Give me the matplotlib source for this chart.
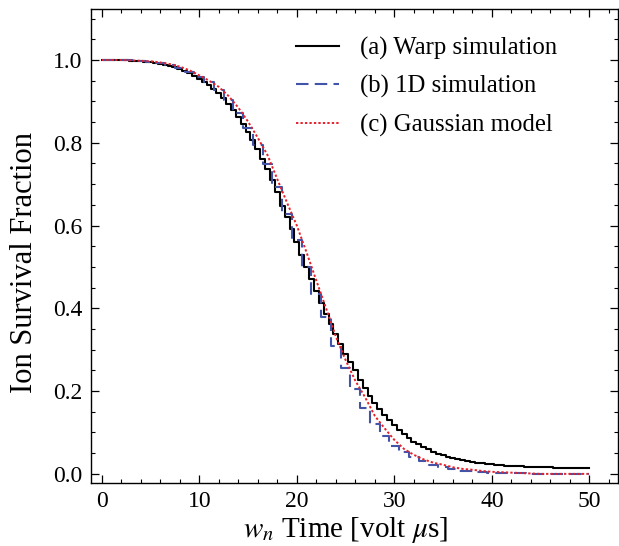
#!/usr/bin/env python3
"""Ion survival fraction vs w_n time: Warp, 1D and Gaussian model."""

import matplotlib
matplotlib.use("Agg")
import matplotlib.pyplot as plt
import numpy as np
from matplotlib.ticker import MultipleLocator, FormatStrFormatter

plt.rcParams["font.family"] = ["Liberation Serif", "DejaVu Serif"]
plt.rcParams["mathtext.fontset"] = "stix"

# sample grids [volt us]
warp_time = np.arange(0, 50.5, 0.5)
time = np.arange(0, 51, 1.0)

warp = [1.000, 1.000, 1.000, 1.000, 0.999, 0.999, 0.998, 0.998, 0.997, 0.996,
        0.995, 0.993, 0.991, 0.988, 0.985, 0.982, 0.978, 0.973, 0.968, 0.962,
        0.955, 0.947, 0.939, 0.930, 0.920, 0.907, 0.893, 0.878, 0.862, 0.845,
        0.826, 0.806, 0.785, 0.761, 0.736, 0.710, 0.682, 0.647, 0.621, 0.591,
        0.560, 0.530, 0.500, 0.470, 0.441, 0.413, 0.386, 0.362, 0.338, 0.313,
        0.290, 0.270, 0.250, 0.228, 0.207, 0.189, 0.172, 0.157, 0.143, 0.130,
        0.117, 0.107, 0.097, 0.087, 0.078, 0.071, 0.065, 0.059, 0.054, 0.049,
        0.045, 0.042, 0.039, 0.036, 0.034, 0.031, 0.029, 0.027, 0.026, 0.024,
        0.023, 0.022, 0.021, 0.020, 0.019, 0.018, 0.018, 0.017, 0.017, 0.016,
        0.016, 0.016, 0.016, 0.015, 0.015, 0.015, 0.015, 0.015, 0.015, 0.015,
        0.015]

sim_1d = [1.000, 1.000, 0.999, 0.999, 0.998, 0.996, 0.993, 0.988, 0.981, 0.972,
          0.960, 0.946, 0.928, 0.903, 0.872, 0.836, 0.795, 0.748, 0.694, 0.628,
          0.565, 0.500, 0.435, 0.378, 0.310, 0.255, 0.205, 0.160, 0.120, 0.092,
          0.068, 0.052, 0.040, 0.030, 0.022, 0.016, 0.012, 0.008, 0.006, 0.004,
          0.003, 0.002, 0.001, 0.001, 0.000, 0.000, 0.000, 0.000, 0.000, 0.000,
          0.000]

gauss = [1.000, 1.000, 1.000, 0.999, 0.998, 0.997, 0.994, 0.990, 0.984, 0.975,
         0.963, 0.950, 0.935, 0.913, 0.885, 0.851, 0.812, 0.770, 0.712, 0.655,
         0.600, 0.535, 0.467, 0.400, 0.332, 0.275, 0.225, 0.185, 0.140, 0.110,
         0.082, 0.060, 0.046, 0.035, 0.027, 0.022, 0.016, 0.012, 0.010, 0.007,
         0.005, 0.004, 0.003, 0.002, 0.001, 0.000, 0.000, 0.000, 0.000, 0.000,
         0.000]

labels = ["(a) Warp simulation", "(b) 1D simulation", "(c) Gaussian model"]

fig = plt.figure(figsize=(6.19, 5.46), dpi=100)
ax = fig.add_axes([0.147, 0.1154, 0.851, 0.868])

ax.plot(warp_time, warp, color="black", lw=1.5, drawstyle="steps-mid", label=labels[0])
ax.plot(time, sim_1d, color="#4254a8", lw=1.5, drawstyle="steps-mid",
        dashes=(6, 3), label=labels[1])
ax.plot(time, gauss, color="#e8202a", lw=1.4, dashes=(1.2, 1.1), label=labels[2])

ax.set_xlim(-1.1, 52.9)
ax.set_ylim(-0.022, 1.123)
ax.xaxis.set_major_locator(MultipleLocator(10))
ax.xaxis.set_minor_locator(MultipleLocator(2))
ax.yaxis.set_major_locator(MultipleLocator(0.2))
ax.yaxis.set_minor_locator(MultipleLocator(0.05))
ax.yaxis.set_major_formatter(FormatStrFormatter("%.1f"))

ax.tick_params(which="both", direction="in", top=True, right=True, labelsize=17)
ax.tick_params(which="major", length=6, width=0.9, pad=6)
ax.tick_params(which="minor", length=3, width=0.8)
for sp in ax.spines.values():
    sp.set_linewidth(1.0)

ax.set_xlabel(r"$w_n$ Time [volt $\mu$s]", fontsize=21, labelpad=2)
ax.set_ylabel("Ion Survival Fraction", fontsize=22, labelpad=10)
ax.xaxis.label.set_x(0.484)
ax.yaxis.label.set_y(0.466)

ax.legend(loc="upper left", bbox_to_anchor=(0.37, 0.962), frameon=False,
          fontsize=17.8, handlelength=1.75, handletextpad=0.85, labelspacing=0.62,
          borderaxespad=0)

fig.savefig("out.png", dpi=100)
